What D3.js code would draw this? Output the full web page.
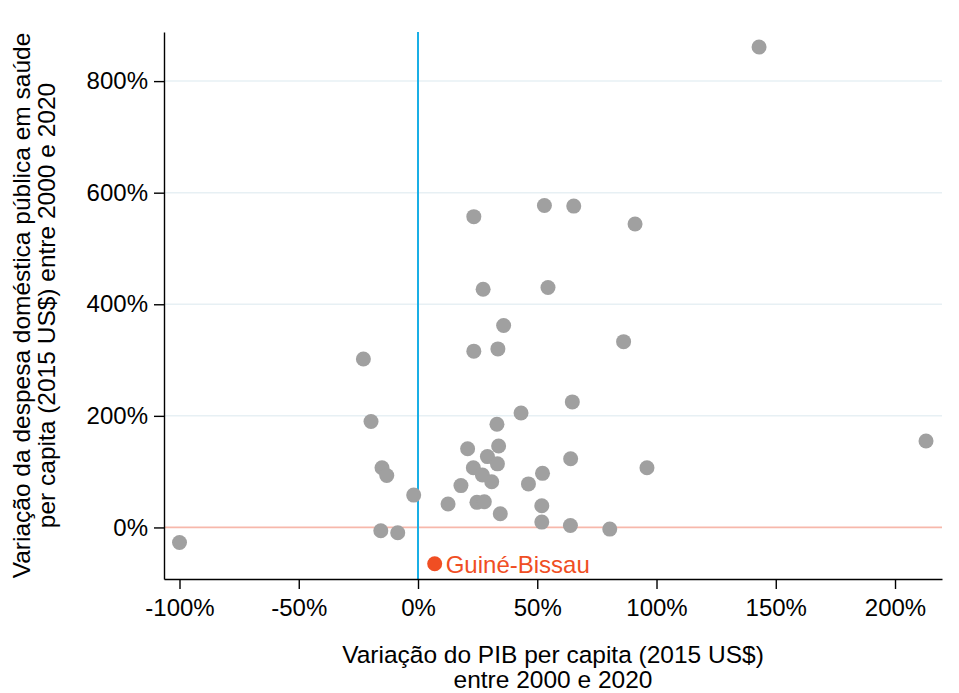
<!DOCTYPE html>
<html lang="pt">
<head>
<meta charset="UTF-8">
<title>PIB vs despesa em saúde</title>
<script src="https://d3js.org/d3.v7.min.js"></script>
<style>
  body { margin: 0; background: #fff; }
  svg text { font-family: "Liberation Sans", Arial, sans-serif; fill: #000; }
</style>
</head>
<body>
<svg id="chart" width="959" height="693"></svg>
<script>
// variação do PIB per capita (%) e da despesa pública em saúde (%)
const gdpChange = [143, -100, -19.7, -15.1, -13.1, -1.8, -15.6, -8.5, -22.9,
  23.4, 53.0, 65.3, 91.0, 27.3, 54.5, 35.9, 23.4, 33.5, 86.2,
  64.7, 43.2, 33.1, 20.8, 33.8, 29.1, 33.3, 23.2, 27.0, 30.9, 18.0, 12.6,
  24.7, 27.8, 34.5, 46.3, 52.2, 51.9, 51.9, 64.0, 63.9, 80.4, 96.0, 213];
const healthChange = [861, -27, 190, 107, 93, 58, -6, -9.5, 302,
  557, 577, 576, 544, 427, 430, 362, 316, 320, 333,
  225, 205, 185, 141, 146, 127, 114, 107, 94, 82, 75, 42,
  45, 46, 24.5, 78, 97, 39, 9.6, 123, 3.6, -3, 107, 155];
const highlightName = "Guiné-Bissau";
const highlightX = 7;
const highlightY = -65;

const xTicks = [-100, -50, 0, 50, 100, 150, 200];
const yTicks = [0, 200, 400, 600, 800];

const svg = d3.select("#chart");
const margin = {top: 32, right: 17, bottom: 114, left: 164};
const width = 959, height = 693;

const x = d3.scaleLinear().domain([-106.5, 219.7]).range([margin.left, width - margin.right]);
const y = d3.scaleLinear().domain([-92.4, 888]).range([height - margin.bottom, margin.top]);

// grid lines
svg.append("g").selectAll("line")
  .data(yTicks.filter(d => d !== 0))
  .join("line")
  .attr("x1", margin.left).attr("x2", width - margin.right)
  .attr("y1", d => y(d)).attr("y2", d => y(d))
  .attr("stroke", "#e7f0f4").attr("stroke-width", 1.5);

// reference lines
svg.append("line")
  .attr("x1", margin.left).attr("x2", width - margin.right)
  .attr("y1", y(0)).attr("y2", y(0))
  .attr("stroke", "#f7b8ab").attr("stroke-width", 1.8);

svg.append("line")
  .attr("x1", x(0)).attr("x2", x(0))
  .attr("y1", margin.top).attr("y2", height - margin.bottom)
  .attr("stroke", "#1aafe6").attr("stroke-width", 2);

// axes
const xAxis = svg.append("g")
  .attr("transform", `translate(0,${height - margin.bottom})`)
  .call(d3.axisBottom(x).tickValues(xTicks).tickFormat(d => d + "%").tickSize(10).tickPadding(10).tickSizeOuter(0));
const yAxis = svg.append("g")
  .attr("transform", `translate(${margin.left},0)`)
  .call(d3.axisLeft(y).tickValues(yTicks).tickFormat(d => d + "%").tickSize(10).tickPadding(6).tickSizeOuter(0));

[xAxis, yAxis].forEach(g => {
  g.select(".domain").attr("stroke", "#000").attr("stroke-width", 1.4);
  g.selectAll(".tick line").attr("stroke", "#000").attr("stroke-width", 1.4);
  g.selectAll(".tick text").attr("font-size", 24).attr("fill", "#000")
    .style("font-family", "'Liberation Sans', Arial, sans-serif");
});

// points
const pts = gdpChange.map((v, i) => ({gx: v, hy: healthChange[i]}));
svg.append("g").selectAll("circle")
  .data(pts)
  .join("circle")
  .attr("cx", d => x(d.gx))
  .attr("cy", d => y(d.hy))
  .attr("r", 7.5)
  .attr("fill", "#a0a0a0");

svg.append("circle")
  .attr("cx", x(highlightX)).attr("cy", y(highlightY))
  .attr("r", 7.5).attr("fill", "#f04e23");
svg.append("text")
  .attr("x", x(highlightX) + 11).attr("y", y(highlightY) + 9)
  .attr("font-size", 24).style("fill", "#f04e23")
  .text(highlightName);

// axis titles
const cx = (margin.left + width - margin.right) / 2;
const xt = svg.append("text").attr("text-anchor", "middle").attr("font-size", 24.5);
xt.append("tspan").attr("x", cx).attr("y", 663).text("Variação do PIB per capita (2015 US$)");
xt.append("tspan").attr("x", cx).attr("y", 688).text("entre 2000 e 2020");

const cy = (margin.top + height - margin.bottom) / 2;
const yt = svg.append("text").attr("text-anchor", "middle").attr("font-size", 24.5)
  .attr("transform", `translate(0,${cy}) rotate(-90)`);
yt.append("tspan").attr("x", 0).attr("y", 30).text("Variação da despesa doméstica pública em saúde");
yt.append("tspan").attr("x", 0).attr("y", 55).text("per capita (2015 US$) entre 2000 e 2020");
</script>
</body>
</html>
